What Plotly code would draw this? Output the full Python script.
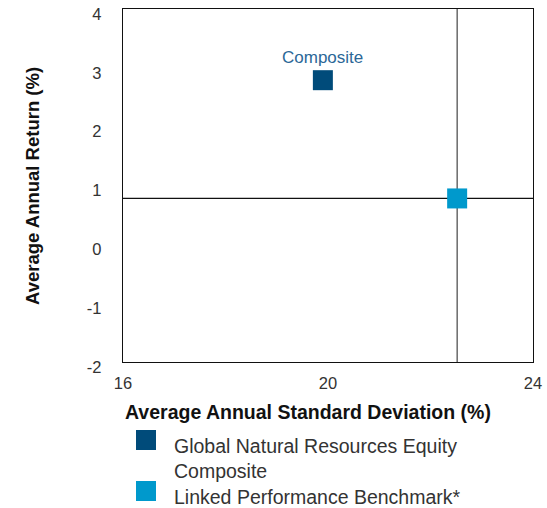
import plotly.graph_objects as go

# ---- data ----
series_names = ["Global Natural Resources Equity Composite", "Linked Performance Benchmark*"]
legend_labels = ["Global Natural Resources Equity<br>Composite", "Linked Performance Benchmark*"]
std_dev = [19.9, 22.52]
avg_return = [2.79, 0.78]
point_labels = ["Composite", ""]
colors = ["#004b7a", "#0099cc"]

x_ticks = [16, 20, 24]
y_ticks = [-2, -1, 0, 1, 2, 3, 4]
x_title = "Average Annual Standard Deviation (%)"
y_title = "Average Annual Return (%)"

FONT = "Liberation Sans, Arial, sans-serif"
TICKC = "#333333"

# body margin is removed in the page, so figure origin is the window origin
W, H = 547, 508
PL, PR, PT, PB = 123, 533, 9, 362   # plot box in window pixels
L, R, T, B = PL, W - PR, PT, H - PB
pw, ph = W - L - R, H - T - B


def px_x(px):
    return (px - PL) / pw


def px_y(py):
    return (PB - py) / ph


fig = go.Figure()

# benchmark crosshair lines (drawn under markers)
bx, by = std_dev[1], avg_return[1]
fig.add_shape(type="line", xref="x", yref="paper", x0=bx, x1=bx, y0=0, y1=1,
              line=dict(color="#444444", width=1.2), layer="below")
fig.add_shape(type="line", xref="paper", yref="y", x0=0, x1=1, y0=by, y1=by,
              line=dict(color="#111111", width=1.2), layer="below")

for i in range(len(series_names)):
    fig.add_trace(go.Scatter(
        x=[std_dev[i]], y=[avg_return[i]], mode="markers",
        name=series_names[i],
        marker=dict(symbol="square", size=20, color=colors[i], line=dict(width=0)),
        showlegend=False, cliponaxis=False,
    ))
    if point_labels[i]:
        fig.add_annotation(x=std_dev[i], y=avg_return[i], text=point_labels[i],
                           showarrow=False, yshift=23,
                           font=dict(family=FONT, size=17, color="#2b6797"))

fig.update_layout(
    width=W, height=H,
    margin=dict(l=L, r=R, t=T, b=B, autoexpand=False),
    paper_bgcolor="white", plot_bgcolor="white",
    font=dict(family=FONT, size=16, color=TICKC),
    showlegend=False,
    xaxis=dict(range=[16, 24], tickvals=x_ticks, ticktext=[str(v) for v in x_ticks],
               showgrid=False, zeroline=False, showline=True, mirror=True,
               linecolor="#111111", linewidth=1.2, ticks="outside", ticklen=6,
               tickcolor="rgba(0,0,0,0)", tickfont=dict(size=16.5, color=TICKC),
               automargin=False, ticklabeloverflow="allow"),
    yaxis=dict(range=[-2, 4], tickvals=y_ticks, ticktext=[str(v) for v in y_ticks],
               showgrid=False, zeroline=False, showline=True, mirror=True,
               linecolor="#111111", linewidth=1.2, ticks="outside", ticklen=17,
               tickcolor="rgba(0,0,0,0)", tickfont=dict(size=16.5, color=TICKC),
               ticklabelshift=5, automargin=False, ticklabeloverflow="allow"),
)

# custom legend below chart
leg_y = [440, 491]
for i in range(len(series_names)):
    yc = leg_y[i]
    fig.add_shape(type="rect", xref="paper", yref="paper",
                  x0=px_x(136), x1=px_x(156), y0=px_y(yc + 10), y1=px_y(yc - 10),
                  line=dict(width=0), fillcolor=colors[i])
    fig.add_annotation(xref="paper", yref="paper", x=px_x(172), y=px_y(yc - 7),
                       xanchor="left", yanchor="top", align="left", showarrow=False,
                       text=legend_labels[i],
                       font=dict(family=FONT, size=19.5, color=TICKC))

# axis titles
fig.add_annotation(xref="paper", yref="paper", x=0, y=px_y(412), xanchor="left",
                   yanchor="middle", showarrow=False, text="<b>" + x_title + "</b>",
                   font=dict(family=FONT, size=19.5, color="#111111"))
fig.add_annotation(xref="paper", yref="paper", x=px_x(32), y=px_y(186), xanchor="center",
                   yanchor="middle", showarrow=False, textangle=-90,
                   text="<b>" + y_title + "</b>",
                   font=dict(family=FONT, size=18.5, color="#111111"))

fig.write_html("out.html",
               config={"displayModeBar": False, "staticPlot": True},
               post_script="document.body.style.margin='0';document.body.style.overflow='hidden';")
